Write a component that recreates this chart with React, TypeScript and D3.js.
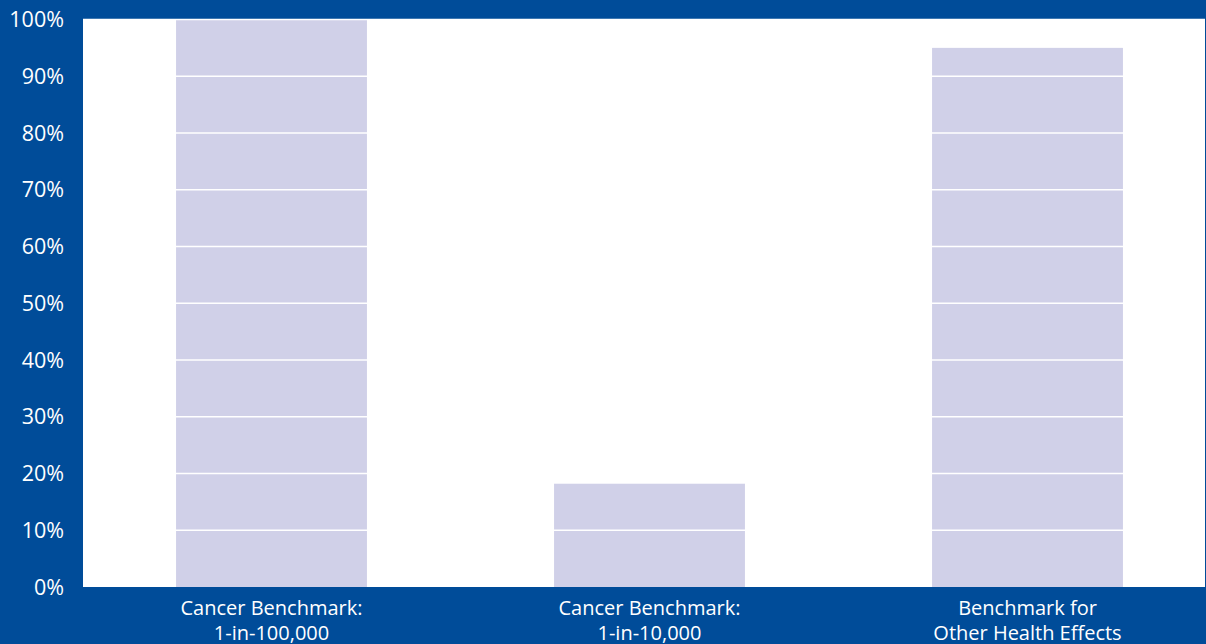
import React from "react";
import * as d3 from "d3";

const categories: string[][] = [
  ["Cancer Benchmark:", "1-in-100,000"],
  ["Cancer Benchmark:", "1-in-10,000"],
  ["Benchmark for", "Other Health Effects"],
];
const values: number[] = [100, 18.2, 95];
const yTicks: number[] = [0, 10, 20, 30, 40, 50, 60, 70, 80, 90, 100];

const W = 1206;
const H = 644;
const BLUE = "#004C99";
const BAR = "#D0D0E8";
const FONT = "'Open Sans', Lato, sans-serif";

export default function App() {
  const plotLeft = 83;
  const plotTop = 19.5;
  const plotBottom = 587;

  const x = d3
    .scaleBand<number>()
    .domain(values.map((_, i) => i))
    .range([82.5, 1216.5])
    .paddingInner(0.495)
    .paddingOuter(0.2475);
  const y = d3.scaleLinear().domain([0, 100]).range([plotBottom, plotTop]);

  return (
    <svg
      width={W}
      height={H}
      style={{ position: "absolute", left: 0, top: 0, display: "block" }}
    >
      <rect x={0} y={0} width={W} height={H} fill={BLUE} />
      <rect
        x={plotLeft}
        y={plotTop}
        width={W - plotLeft - 1}
        height={plotBottom - plotTop}
        fill="#ffffff"
      />
      {values.map((v, i) => (
        <rect
          key={i}
          x={x(i)}
          y={y(v)}
          width={x.bandwidth()}
          height={y(0) - y(v)}
          fill={BAR}
        />
      ))}
      {yTicks.slice(1).map((t) => (
        <line
          key={t}
          x1={plotLeft}
          x2={W - 1}
          y1={y(t)}
          y2={y(t)}
          stroke="#ffffff"
          strokeWidth={1.5}
        />
      ))}
      {yTicks.map((t) => (
        <text
          key={t}
          x={64}
          y={y(t)}
          dy="0.35em"
          textAnchor="end"
          fill="#ffffff"
          fontFamily={FONT}
          fontSize={21.5}
        >
          {t}%
        </text>
      ))}
      {categories.map((lines, i) => (
        <text
          key={i}
          x={(x(i) ?? 0) + x.bandwidth() / 2}
          y={615}
          textAnchor="middle"
          fill="#ffffff"
          fontFamily={FONT}
          fontSize={20}
        >
          {lines.map((l, j) => (
            <tspan key={j} x={(x(i) ?? 0) + x.bandwidth() / 2} dy={j === 0 ? 0 : 25}>
              {l}
            </tspan>
          ))}
        </text>
      ))}
    </svg>
  );
}
